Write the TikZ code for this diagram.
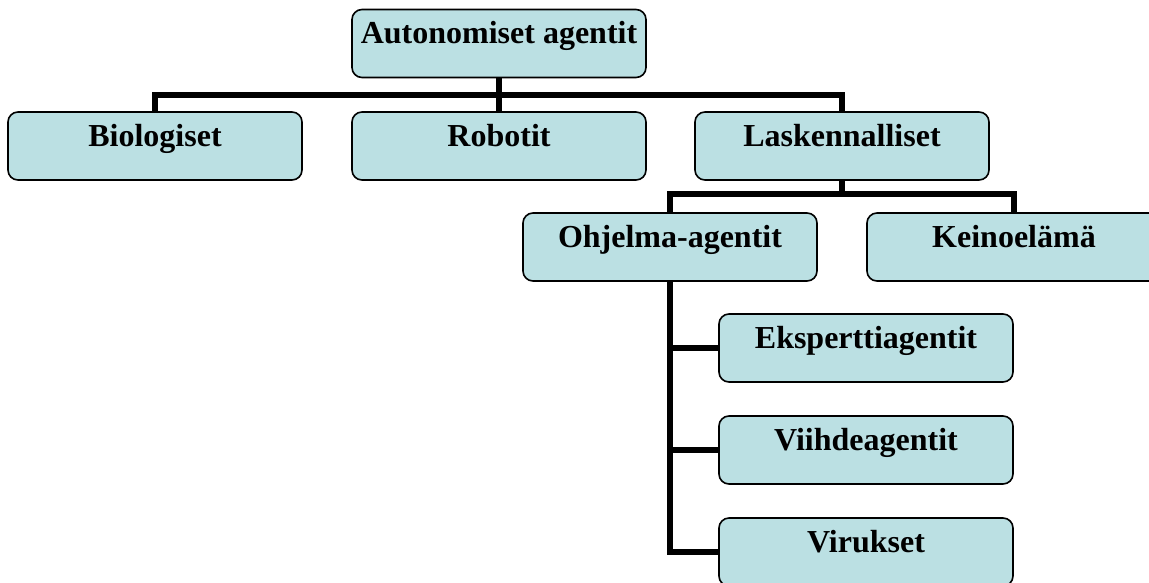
\documentclass[tikz,border=0pt]{standalone}
\usepackage{fontspec}
\setmainfont{Liberation Serif}
\usetikzlibrary{positioning}
\definecolor{boxfill}{HTML}{BBE0E3}

\begin{document}
\begin{tikzpicture}[x=1pt,y=-1pt,
    agentbox/.style={draw=black,line width=1.6pt,fill=boxfill,rounded corners=10pt,
      minimum width=294pt,minimum height=68pt,inner sep=0pt,
      text height=22pt,text depth=22pt,
      font=\fontsize{32}{36}\selectfont\bfseries},
    conn/.style={line width=6pt,line join=miter}]
  \useasboundingbox (0,0) rectangle (1149,582);
  % top level
  \node[agentbox] (auto) at (499,43.5) {Autonomiset agentit};
  \node[agentbox] (bio) at (155,146) {Biologiset};
  \node[agentbox] (robo) at (499,146) {Robotit};
  \node[agentbox] (lask) at (842,146) {Laskennalliset};
  % laskennalliset
  \node[agentbox] (ohj) at (670,247) {Ohjelma-agentit};
  \node[agentbox] (keino) at (1014,247) {Keinoelämä};
  % ohjelma-agentit
  \node[agentbox] (eksp) at (866,348) {Eksperttiagentit};
  \node[agentbox] (viih) at (866,450) {Viihdeagentit};
  \node[agentbox] (viru) at (866,552) {Virukset};
  % connectors
  \draw[conn] (auto.south) -- (robo.north);
  \draw[conn] (bio.north) -- ++(0,-16) -| (lask.north);
  \draw[conn] (lask.south) -- ++(0,16);
  \draw[conn] (ohj.north) -- ++(0,-18) -| (keino.north);
  \draw[conn] (ohj.south) |- (viru.west);
  \draw[conn] (ohj.south |- eksp.west) -- (eksp.west);
  \draw[conn] (ohj.south |- viih.west) -- (viih.west);
\end{tikzpicture}
\end{document}
